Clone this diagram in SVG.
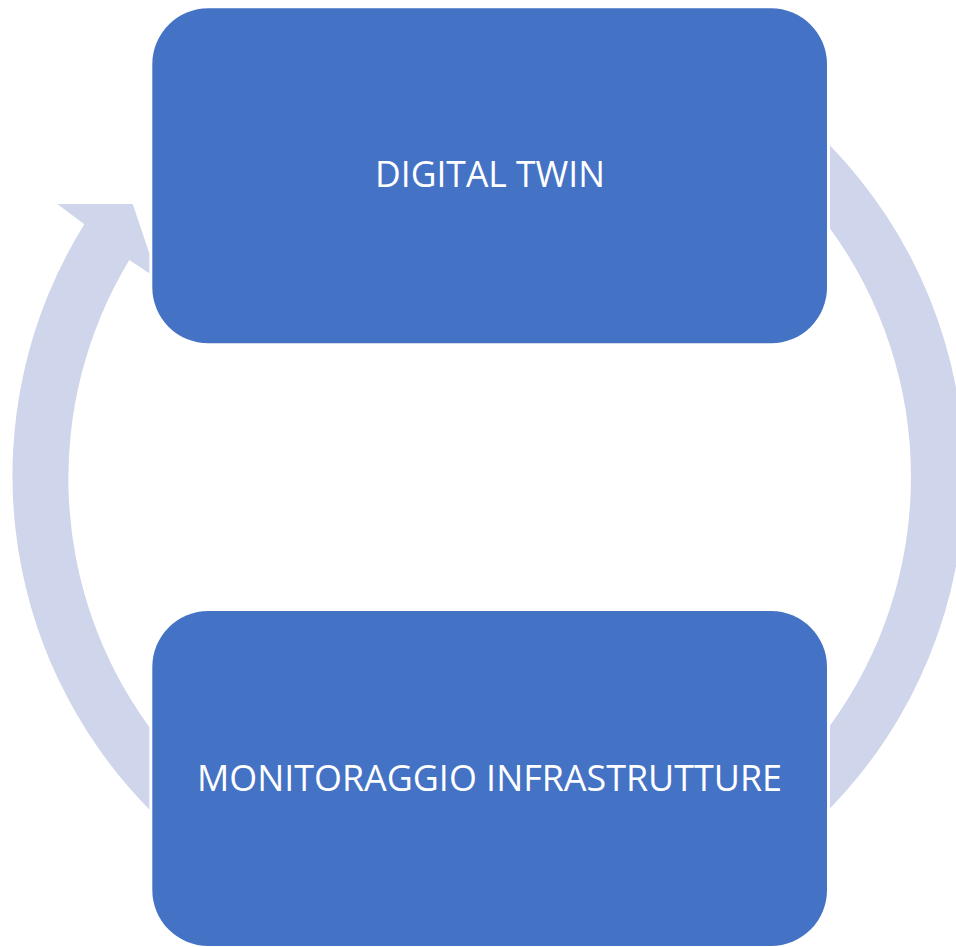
<svg xmlns="http://www.w3.org/2000/svg" width="956" height="947" viewBox="0 0 956 947">
<style>
.ring{fill:#CFD5EA;stroke:none}
.box{fill:#4472C4;stroke:none}
.lbl{fill:#FFFFFF;font-family:"Open Sans","Liberation Sans",sans-serif;font-size:36px;text-anchor:middle}
</style>
<rect width="956" height="947" fill="#FFFFFF"/>
<g id="connectors">
<path class="ring" d="M830,145.6 A475.5,475.5 0 0 1 830,808.4 L830,725.6 A422,422 0 0 0 830,228.4 Z"/>
<path class="ring" d="M84.3,224.3 L57.3,204 L132.7,204 L149.3,253.3 L149.3,273.3 L129.3,260 A422,422 0 0 0 149.3,727 L149.3,809.4 A475.5,475.5 0 0 1 84.3,224.3 Z"/>
</g>
<g id="node-digital-twin">
<rect class="box" x="152.3" y="8.3" width="674.7" height="335" rx="56" ry="56"/>
<text class="lbl" x="490" y="187" textLength="230" lengthAdjust="spacingAndGlyphs">DIGITAL TWIN</text>
</g>
<g id="node-monitoraggio">
<rect class="box" x="152.3" y="611" width="674.7" height="335" rx="56" ry="56"/>
<text class="lbl" x="489.5" y="791" textLength="585" lengthAdjust="spacingAndGlyphs">MONITORAGGIO INFRASTRUTTURE</text>
</g>
</svg>
